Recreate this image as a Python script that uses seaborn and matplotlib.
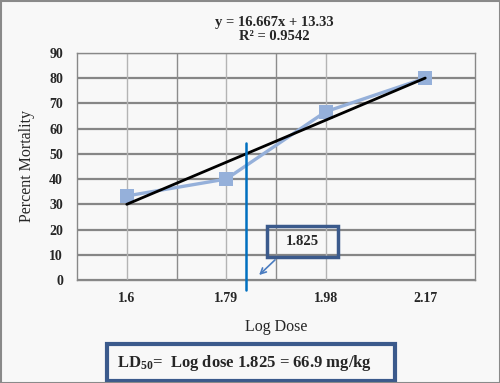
import numpy as np
import pandas as pd
import matplotlib
matplotlib.use("Agg")
import matplotlib.pyplot as plt
from matplotlib.patches import Rectangle
import seaborn as sns

# data
log_dose = ["1.6", "1.79", "1.98", "2.17"]
mortality = [33.3, 40.0, 66.7, 80.0]
yticks = [0, 10, 20, 30, 40, 50, 60, 70, 80, 90]
trend_text = "y = 16.667x + 13.33\nR\u00b2 = 0.9542"
ld50_text = "1.825"
result_text = "LD$\\mathregular{_{50}}$=  Log dose 1.825 = 66.9 mg/kg"

df = pd.DataFrame({"pos": np.arange(1, len(log_dose) + 1), "mortality": mortality})

sns.set_style("white")
plt.rcParams["font.family"] = ["Liberation Serif", "DejaVu Serif"]

bg = "#f8f8f8"
fig = plt.figure(figsize=(5, 3.83), dpi=100, facecolor=bg)
ax = fig.add_axes([0.154, 0.269, 0.796, 0.593], facecolor=bg)

# gridlines like excel
for y in yticks:
    ax.axhline(y, color="#868686", lw=1.6, zorder=0)
for x in [1, 2, 3]:
    ax.axvline(x, color="#b4b4b4", lw=1, zorder=0)
for x in [1.5, 2.5]:
    ax.axvline(x, color="#8c8c8c", lw=1, zorder=0)

sns.lineplot(data=df, x="pos", y="mortality", ax=ax, color="#95b0da", lw=2.4,
             marker="s", markersize=9.5, markeredgewidth=0, zorder=3)
sns.regplot(data=df, x="pos", y="mortality", ax=ax, scatter=False, ci=None,
            truncate=True, line_kws={"color": "black", "lw": 2, "zorder": 4})

# where the trendline crosses 50 %
slope, icpt = np.polyfit(df["pos"], df["mortality"], 1)
x50 = (50 - icpt) / slope
ax.plot([x50, x50], [-4, 54.3], color="#0070c0", lw=1.8, clip_on=False, zorder=5)

ax.set_xlim(0.5, 4.5)
ax.set_ylim(0, 90)
ax.set_yticks(yticks)
ax.set_xticks([0.5, 1.5, 2.5, 4.5])
ax.set_xticklabels([])
ax.set_xticks(df["pos"], minor=True)
ax.set_xticklabels(log_dose, minor=True)
ax.tick_params(axis="x", which="major", length=5, color="#888888", direction="out")
ax.tick_params(axis="x", which="minor", length=0, pad=9)
ax.tick_params(axis="y", length=4, color="#888888", direction="out", pad=6)
for lab in ax.get_xticklabels(minor=True) + ax.get_yticklabels():
    lab.set_fontweight("bold")
    lab.set_fontsize(10)
for s in ax.spines.values():
    s.set_color("#888888")
    s.set_linewidth(1)

ax.set_xlabel("Log Dose", fontsize=11.5, labelpad=10)
ax.set_ylabel("Percent Mortality", fontsize=11.5, labelpad=10)
ax.set_title(trend_text, fontsize=10.5, fontweight="bold", linespacing=1.15, pad=9, x=0.495)

# label box and arrow
fig.add_artist(Rectangle((0.534, 0.329), 0.142, 0.081, transform=fig.transFigure,
                         fill=False, ec="#3b5a8c", lw=2.5))
fig.text(0.605, 0.369, ld50_text, ha="center", va="center", fontsize=10.5, fontweight="bold")
ax.annotate("", xy=(2.31, 1.2), xytext=(2.51, 8.7),
            arrowprops=dict(arrowstyle="->", color="#4a7cc0", lw=1.2))

# result box at the bottom
fig.add_artist(Rectangle((0.214, 0.004), 0.576, 0.098, transform=fig.transFigure,
                         fill=False, ec="#3b5a8c", lw=3))
fig.text(0.49, 0.052, result_text, ha="center", va="center", fontsize=12, fontweight="bold")

# outer frame
fig.add_artist(Rectangle((0.001, 0.001), 0.998, 0.997, transform=fig.transFigure,
                         fill=False, ec="#8a8a8a", lw=1.5))

fig.savefig("out.png", dpi=100, facecolor=bg)
